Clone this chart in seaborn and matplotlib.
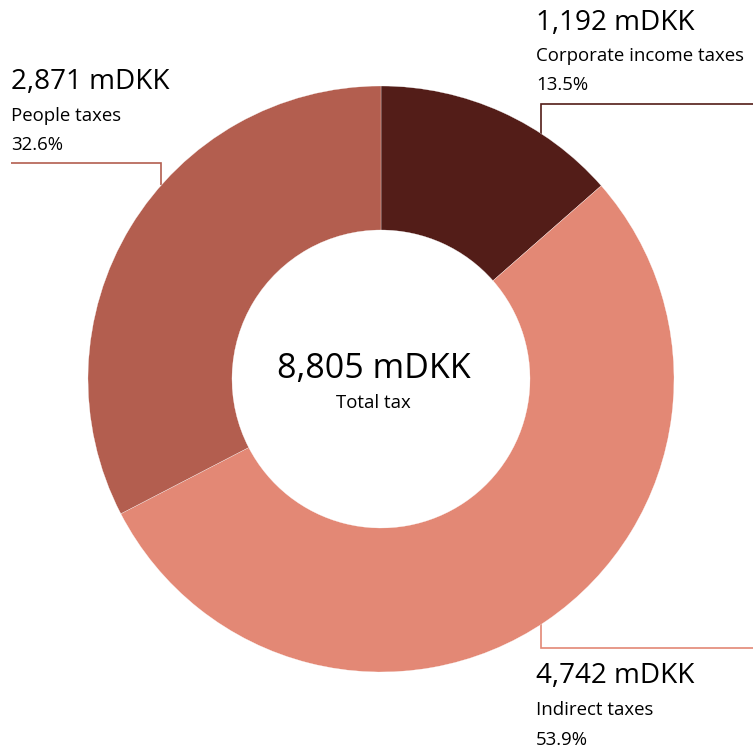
import matplotlib
matplotlib.use("Agg")
import matplotlib.pyplot as plt
import seaborn as sns
import numpy as np

sns.set_theme(style="white")
plt.rcParams['font.family'] = ['Open Sans', 'DejaVu Sans']

# Data
categories = ["Corporate income taxes", "Indirect taxes", "People taxes"]
values_mdkk = [1192, 4742, 2871]
shares = ["13.5%", "53.9%", "32.6%"]
total_mdkk = 8805
total_label = "Total tax"
colors = ["#531d18", "#e38875", "#b35e4f"]

W, H = 753, 750
fig = plt.figure(figsize=(W / 100, H / 100), dpi=100)
ax = fig.add_axes([0, 0, 1, 1])
ax.set_xlim(0, W)
ax.set_ylim(0, H)
ax.set_aspect("equal")
ax.axis("off")

cx, cy = 381, H - 379
R_out, R_in = 293, 149

wedges, _ = ax.pie(values_mdkk, colors=colors, startangle=90, counterclock=False,
                   radius=R_out, center=(cx, cy), frame=True,
                   wedgeprops=dict(width=R_out - R_in, edgecolor="white", linewidth=0.2))
ax.set_xlim(0, W)
ax.set_ylim(0, H)
ax.axis("off")

def edge_y(x, sign):
    return cy + sign * np.sqrt(R_out ** 2 - (x - cx) ** 2)

lw = 1.2
# Corporate leader
xl = 541
ax.plot([xl, xl, W], [edge_y(xl, 1), H - 104, H - 104], color=colors[0], lw=lw, zorder=0,
        solid_capstyle="butt", solid_joinstyle="miter")
# Indirect leader
ax.plot([xl, xl, W], [edge_y(xl, -1), H - 648, H - 648], color=colors[1], lw=lw, zorder=0,
        solid_capstyle="butt", solid_joinstyle="miter")
# People leader
xp = 161
ax.plot([11, xp, xp], [H - 162.5, H - 162.5, edge_y(xp, 1)], color=colors[2], lw=lw, zorder=0,
        solid_capstyle="butt", solid_joinstyle="miter")

big = 20.1
mid = 13.4

def label_block(x, y_val, y_name, y_pct, i):
    ax.text(x, H - y_val, f"{values_mdkk[i]:,} mDKK", fontsize=big, color="black",
            ha="left", va="baseline")
    ax.text(x, H - y_name, categories[i], fontsize=mid, color="black", ha="left", va="baseline")
    ax.text(x, H - y_pct, shares[i], fontsize=mid, color="black", ha="left", va="baseline")

label_block(536, 30, 61, 90, 0)
label_block(536, 683, 715, 745, 1)
label_block(11, 89, 121, 150, 2)

ax.text(373.5, H - 378, f"{total_mdkk:,} mDKK", fontsize=24.5, color="black", ha="center", va="baseline")
ax.text(373.5, H - 408, total_label, fontsize=13.4, color="black", ha="center", va="baseline")

fig.savefig("out.png", dpi=100, facecolor="white")
